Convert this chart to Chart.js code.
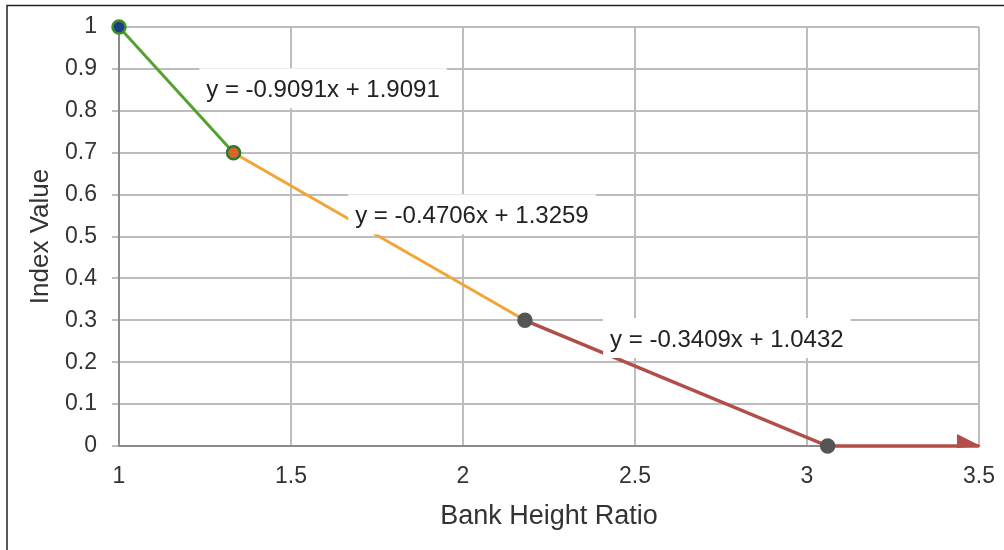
<!DOCTYPE html>
<html><head><meta charset="utf-8">
<script src="https://cdn.jsdelivr.net/npm/chart.js@4/dist/chart.umd.min.js"></script>
<style>html,body{margin:0;padding:0;background:#fff}#wrap{width:1004px;height:550px;position:relative}</style>
</head><body><div id="wrap"><canvas id="c" width="1004" height="550"></canvas></div>
<script>
// ---- data ----
const breakX = [1, 1.333, 2.18, 3.06];
const breakY = [1, 0.7, 0.3, 0];
const arrowEndX = 3.5;
const arrowEndY = 0;
const equations = ['y = -0.9091x + 1.9091', 'y = -0.4706x + 1.3259', 'y = -0.3409x + 1.0432'];
const xTickValues = [1, 1.5, 2, 2.5, 3, 3.5];
const yTickValues = [0, 0.1, 0.2, 0.3, 0.4, 0.5, 0.6, 0.7, 0.8, 0.9, 1];

// ---- styles / placement ----
const segmentColors = ['#55a030', '#f2a535', '#b24e4a'];
const markerFill = ['#1b3f86', '#d8652b', '#555555', '#555555'];
const markerBorder = ['#3f8f25', '#2e7a2a', '#555555', '#555555'];
const eqAnchors = [{x: 1.593, y: 0.849}, {x: 2.026, y: 0.548}, {x: 2.767, y: 0.253}];
const FONT = '"Liberation Sans", Arial, Helvetica, sans-serif';

const segments = [0, 1, 2].map(i => {
  const pts = [{x: breakX[i], y: breakY[i]}, {x: breakX[i + 1], y: breakY[i + 1]}];
  if (i === 2) pts.push({x: arrowEndX, y: arrowEndY});
  return {
    data: pts, showLine: true, borderColor: segmentColors[i], backgroundColor: segmentColors[i],
    borderWidth: i === 2 ? 3.5 : 3, pointRadius: 0, clip: false, order: 2
  };
});

const markers = {
  data: breakX.map((x, i) => ({x, y: breakY[i]})),
  showLine: false, pointRadius: 6.5, pointBorderWidth: 2.5,
  pointBackgroundColor: markerFill, pointBorderColor: markerBorder, clip: false, order: 0
};

const framePlugin = {
  id: 'frame',
  afterDraw(chart) {
    const ctx = chart.ctx;
    ctx.save();
    ctx.strokeStyle = '#222'; ctx.lineWidth = 1.5;
    ctx.beginPath(); ctx.moveTo(7, 550); ctx.lineTo(7, 5.5); ctx.lineTo(1004, 5.5); ctx.stroke();
    ctx.restore();
  }
};

const annotPlugin = {
  id: 'annot',
  afterDatasetsDraw(chart) {
    const ctx = chart.ctx, xs = chart.scales.x, ys = chart.scales.y;
    ctx.save();
    // arrow head
    const tx = xs.getPixelForValue(arrowEndX), ty = ys.getPixelForValue(arrowEndY);
    ctx.fillStyle = segmentColors[2];
    ctx.beginPath(); ctx.moveTo(tx + 2, ty); ctx.lineTo(tx - 22, ty - 12); ctx.lineTo(tx - 22, ty + 2); ctx.closePath(); ctx.fill();
    // equation labels
    ctx.font = '24px ' + FONT;
    ctx.textAlign = 'center'; ctx.textBaseline = 'middle';
    equations.forEach((t, i) => {
      const cx = xs.getPixelForValue(eqAnchors[i].x), cy = ys.getPixelForValue(eqAnchors[i].y);
      const w = ctx.measureText(t).width + 14, h = 40;
      ctx.fillStyle = '#ffffff';
      ctx.fillRect(cx - w / 2, cy - h / 2 - 2, w, h);
      ctx.fillStyle = '#222';
      ctx.fillText(t, cx, cy);
    });
    ctx.restore();
  }
};

new Chart(document.getElementById('c'), {
  type: 'scatter',
  data: {datasets: [markers, ...segments]},
  options: {
    responsive: false, animation: false, devicePixelRatio: 1,
    layout: {padding: {top: 27, right: 25, left: 0, bottom: 0}},
    plugins: {legend: {display: false}, tooltip: {enabled: false}},
    scales: {
      x: {
        type: 'linear', min: 1, max: 3.5,
        afterBuildTicks: s => { s.ticks = xTickValues.map(v => ({value: v})); },
        afterFit: s => { s.height = 104; s.paddingLeft = 0; s.paddingRight = 0; },
        ticks: {font: {family: FONT, size: 23}, color: '#333', padding: 17, maxRotation: 0,
          callback: v => String(+v.toFixed(1))},
        grid: {color: '#bdbdbd', lineWidth: 2, drawTicks: false},
        border: {color: '#8a8a8a', width: 2},
        title: {display: true, text: 'Bank Height Ratio', font: {family: FONT, size: 27}, color: '#333',
          padding: {top: 0, bottom: 17}}
      },
      y: {
        type: 'linear', min: 0, max: 1,
        afterBuildTicks: s => { s.ticks = yTickValues.map(v => ({value: v})); },
        afterFit: s => { s.width = 119; s.paddingTop = 0; s.paddingBottom = 0; },
        ticks: {font: {family: FONT, size: 23}, color: '#333', padding: 15,
          callback: v => String(+v.toFixed(1))},
        grid: {color: '#bdbdbd', lineWidth: 2, tickLength: 7},
        border: {color: '#8a8a8a', width: 2},
        title: {display: true, text: 'Index Value', font: {family: FONT, size: 26}, color: '#333',
          padding: {top: 25, bottom: 0}}
      }
    }
  },
  plugins: [framePlugin, annotPlugin]
});
</script></body></html>
